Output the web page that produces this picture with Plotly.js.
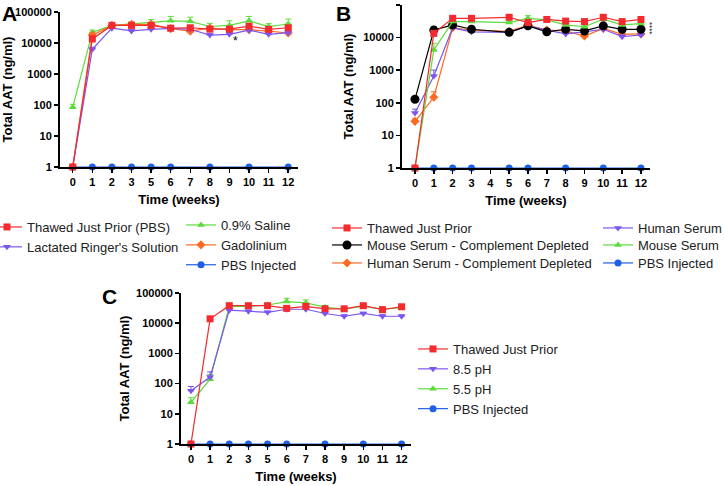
<!DOCTYPE html>
<html><head><meta charset="utf-8">
<script src="https://cdn.plot.ly/plotly-3.0.1.min.js"></script>
<style>html,body{margin:0;padding:0;background:#fff}#chart{width:724px;height:486px}</style>
</head><body><div id="chart"></div>
<script>
// ---- shared axes data ----
const catWeeks = ['0','1','2','3','5','6','7','8','9','10','11','12'];
const weeksB = [0,1,2,3,5,6,7,8,9,10,11,12];
const bTickVals = [0,1,2,3,4,5,6,7,8,9,10,11,12];
const pbsWeeks = ['0','1','2','3','5','6','8','10','12'];
const pbsWeeksB = [0,1,2,3,5,6,8,10,12];
const pbsVals = [1,1,1,1,1,1,1,1,1];
const yTickVals = [1,10,100,1000,10000,100000];
const yTickText = ['1','10','100','1000','10000','100000'];

// ---- Panel A ----
const aThawed = [1,13500,37000,37000,37000,30000,31000,28000,28000,35000,27500,31000];
const aThawedErr = [0,3000,3000,4000,5000,4000,5000,4000,4000,6000,4000,5000];
const aLactated = [1,6300,30000,24500,27700,29700,27700,18000,19000,26000,19000,21500];
const aLactatedErr = [0,1000,2000,2500,3000,3000,3000,2000,2500,3000,2500,3000];
const aSaline = [85,22000,37000,41000,45000,52000,50000,34000,37000,52000,34000,41000];
const aSalineErr = [20,4000,3000,7000,12000,20000,18000,9000,15000,20000,8000,18000];
const aGado = [1,18000,37000,40000,40000,29000,24000,30000,27000,27000,24000,21000];
const aGadoErr = [0,3000,3000,4000,5000,5000,5000,4000,4000,7000,4000,3000];

// ---- Panel B ----
const bThawed = [1,13500,39000,39000,42000,29000,36000,32000,31000,42000,31000,36000];
const bThawedErr = [0,3000,4000,4000,4000,4000,4000,3000,3000,5000,4000,5000];
const bMouseCD = [128,17000,24500,18000,14500,23000,15000,18000,16000,23000,18000,18000];
const bMouseCDErr = [20,4000,3000,2500,2000,3000,2000,2500,2500,4000,3000,3000];
const bHumanCD = [27,148,20000,17000,15500,24000,17000,16000,11200,19000,12500,13000];
const bHumanCDErr = [5,70,2000,2000,2000,3000,2000,2000,1500,2500,1500,1500];
const bHuman = [49,660,20000,15000,14500,23000,17000,13000,15000,18000,10700,12000];
const bHumanErr = [15,350,2000,2000,2000,3000,2000,2000,2000,2500,1500,1500];
const bMouse = [1,4200,31000,31000,29000,39000,35000,24500,21500,37000,24500,27000];
const bMouseErr = [0,2500,3000,3000,3000,8000,4000,3000,3000,5000,3000,4000];

// ---- Panel C ----
const cThawed = [1,14000,38000,38000,38000,31000,36000,30000,30000,38000,28000,35000];
const cThawedErr = [0,2000,3000,3000,4000,4000,4000,3000,3000,4000,6000,4000];
const cBasic = [58,165,27000,25000,23000,29000,29000,21000,17000,21000,17000,17000];
const cBasicErr = [22,80,2000,2000,2000,3000,3000,2000,2000,2000,2000,2000];
const cAcidic = [24,140,36000,36000,40000,52000,47000,34000,29000,37000,29000,33000];
const cAcidicErr = [10,60,3000,3000,4000,15000,12000,4000,3000,4000,4000,4000];

const RED='#f42a2f', PURPLE='#7c56ee', GREEN='#5bdc3c', ORANGE='#ff6a23', BLUE='#1e5fe6', BLACK='#000000';

function tr(x,y,err,name,color,symbol,ax,legend,rank,msize){
  const t = {x:x,y:y,name:name,type:'scatter',mode:'lines+markers',
    xaxis:'x'+ax, yaxis:'y'+ax, legend:legend, legendrank:rank,
    line:{color:color,width:1.2},
    marker:{color:color,symbol:symbol,size:msize||7,line:{width:0}},
    cliponaxis:false};
  if(err){t.error_y={type:'data',symmetric:false,array:err,arrayminus:err.map(()=>0),
    visible:true,color:color,thickness:1,width:3};}
  return t;
}

const data = [
  // A
  tr(pbsWeeks,pbsVals,null,'PBS Injected',BLUE,'circle','', 'legend2',3),
  tr(catWeeks,aSaline,aSalineErr,'0.9% Saline',GREEN,'triangle-up','', 'legend2',1),
  tr(catWeeks,aGado,aGadoErr,'Gadolinium',ORANGE,'diamond','', 'legend2',2),
  tr(catWeeks,aLactated,aLactatedErr,"Lactated Ringer's Solution",PURPLE,'triangle-down','', 'legend',2),
  tr(catWeeks,aThawed,aThawedErr,'Thawed Just Prior (PBS)',RED,'square','', 'legend',1),
  // B
  tr(pbsWeeksB,pbsVals,null,'PBS Injected',BLUE,'circle','2','legend8',1),
  tr(weeksB,bHumanCD,bHumanCDErr,'Human Serum - Complement Depleted',ORANGE,'diamond','2','legend5',1),
  tr(weeksB,bHuman,bHumanErr,'Human Serum',PURPLE,'triangle-down','2','legend6',1),
  tr(weeksB,bMouseCD,bMouseCDErr,'Mouse Serum - Complement Depleted',BLACK,'circle','2','legend4',1,9),
  tr(weeksB,bMouse,bMouseErr,'Mouse Serum',GREEN,'triangle-up','2','legend7',1),
  tr(weeksB,bThawed,bThawedErr,'Thawed Just Prior',RED,'square','2','legend3',1),
  // C
  tr(pbsWeeks,pbsVals,null,'PBS Injected',BLUE,'circle','3','legend9',4),
  tr(catWeeks,cAcidic,cAcidicErr,'5.5 pH',GREEN,'triangle-up','3','legend9',3),
  tr(catWeeks,cBasic,cBasicErr,'8.5 pH',PURPLE,'triangle-down','3','legend9',2),
  tr(catWeeks,cThawed,cThawedErr,'Thawed Just Prior',RED,'square','3','legend9',1)
];

const FONT = 'Liberation Sans, Arial, sans-serif';
const tickFont = {family:FONT,size:11,color:'#000',weight:'bold'};
const titleFont = {family:FONT,size:13,color:'#000',weight:'bold'};

function yax(dom,standoff){
  return {type:'log',domain:dom,range:[0,5],tickmode:'array',tickvals:yTickVals,ticktext:yTickText,
    showline:true,linewidth:2,linecolor:'#000',ticks:'outside',ticklen:4,tickwidth:1.5,tickcolor:'#000',
    showgrid:false,zeroline:false,tickfont:tickFont,
    title:{text:'Total AAT (ng/ml)',font:titleFont,standoff:standoff}};
}
function xcat(dom,rng,anchor){
  return {type:'category',categoryorder:'array',categoryarray:catWeeks,domain:dom,range:rng,anchor:anchor,
    showline:true,linewidth:2,linecolor:'#000',
    ticks:'outside',ticklen:4,tickwidth:1.5,tickcolor:'#000',showgrid:false,zeroline:false,tickfont:tickFont,
    title:{text:'Time (weeks)',font:titleFont,standoff:8}};
}
const legBase = {font:{family:FONT,size:13,color:'#222'},bgcolor:'rgba(0,0,0,0)',itemwidth:30,
  xanchor:'left',yanchor:'top',orientation:'v',tracegroupgap:0,itemclick:false};
function leg(px,top){return Object.assign({},legBase,{x:px/724,y:1-top/486});}

const layout = {
  width:724,height:486,margin:{l:0,r:0,t:0,b:0,autoexpand:false},paper_bgcolor:'#fff',plot_bgcolor:'#fff',
  showlegend:true,
  xaxis:xcat([60/724,298/724],[-0.65,11.5],'y'),
  yaxis:yax([1-167/486,1-12/486],0),
  xaxis2:{domain:[402/724,650/724],range:[-0.69,12.48],anchor:'y2',tickmode:'array',tickvals:bTickVals,
    showline:true,linewidth:2,linecolor:'#000',ticks:'outside',ticklen:4,tickwidth:1.5,tickcolor:'#000',
    showgrid:false,zeroline:false,tickfont:tickFont,title:{text:'Time (weeks)',font:titleFont,standoff:8}},
  yaxis2:Object.assign(yax([1-168/486,1-5/486],7),{anchor:'x2'}),
  xaxis3:xcat([181/724,411/724],[-0.52,11.49],'y3'),
  yaxis3:Object.assign(yax([1-444/486,1-293/486],4),{anchor:'x3'}),
  legend:leg(-13,212),
  legend2:leg(181,210),
  legend3:leg(327,213),
  legend4:leg(327,230),
  legend5:leg(327,248),
  legend6:leg(598,213),
  legend7:leg(598,230),
  legend8:leg(598,248),
  legend9:leg(413,334),
  annotations:[
    {text:'A',xref:'paper',yref:'paper',x:0,y:1,xanchor:'left',yanchor:'top',showarrow:false,font:{family:FONT,size:21,weight:'bold',color:'#000'}},
    {text:'B',xref:'paper',yref:'paper',x:334/724,y:1,xanchor:'left',yanchor:'top',showarrow:false,font:{family:FONT,size:21,weight:'bold',color:'#000'}},
    {text:'C',xref:'paper',yref:'paper',x:100/724,y:1-283/486,xanchor:'left',yanchor:'top',showarrow:false,font:{family:FONT,size:21,weight:'bold',color:'#000'}},
    {text:'*',xref:'x',yref:'y',x:8.3,y:4.08,showarrow:false,font:{family:FONT,size:12,color:'#000'}},
    {text:'****',xref:'x2',yref:'y2',x:12.42,y:4.3,textangle:90,showarrow:false,font:{family:FONT,size:8,color:'#000'}},
    {text:'*',xref:'x3',yref:'y3',x:11.5,y:4.15,showarrow:false,font:{family:FONT,size:12,color:'#000'}}
  ]
};

Plotly.newPlot('chart',data,layout,{staticPlot:true,displayModeBar:false});
</script></body></html>
